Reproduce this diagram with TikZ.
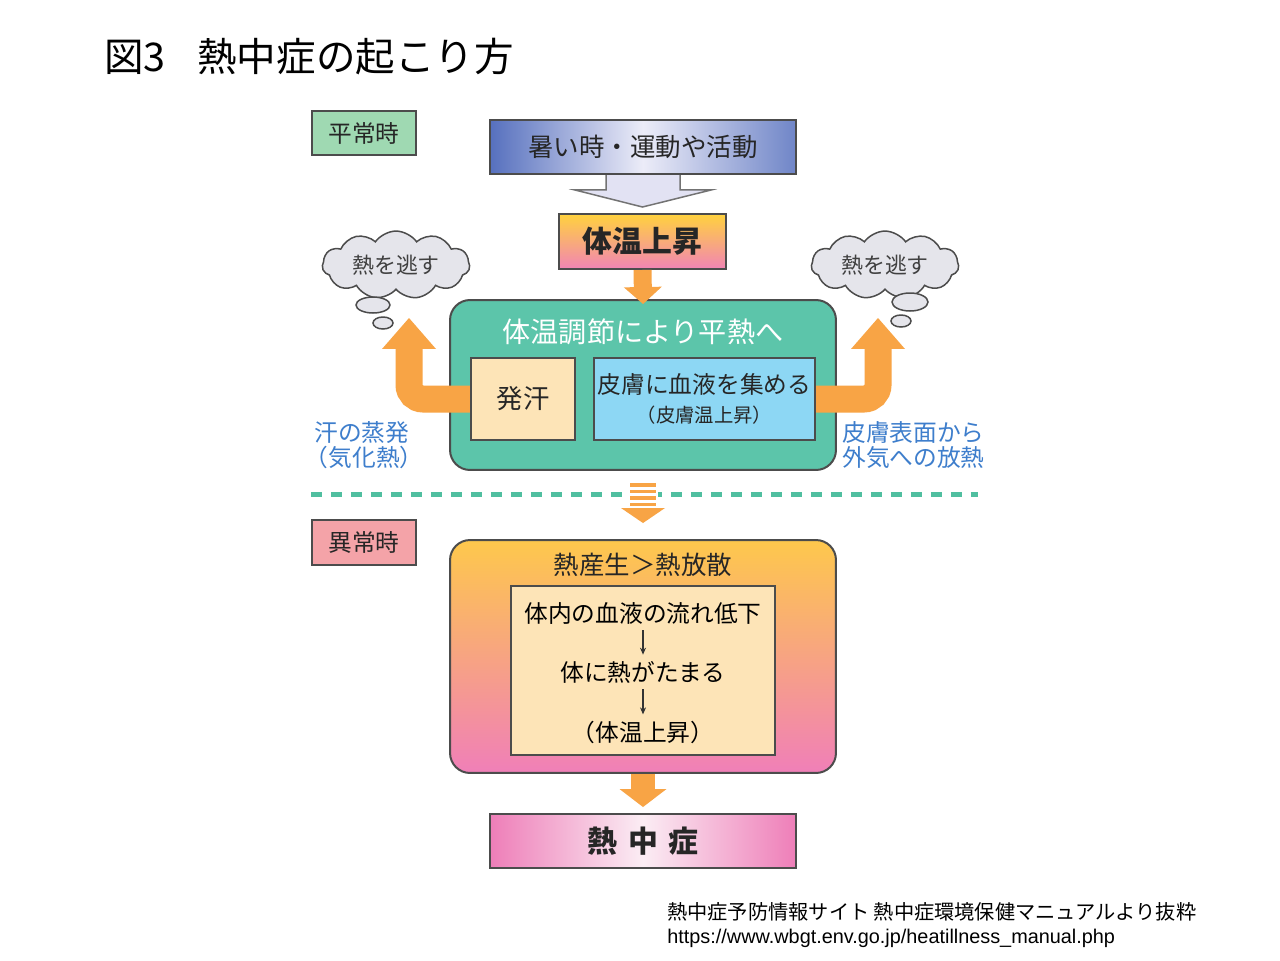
\documentclass[tikz,border=0pt]{standalone}
\usepackage{fontspec}
\setmainfont{Noto Sans CJK JP}
\newfontfamily\urlfont{Liberation Sans}
\usetikzlibrary{shapes.symbols, arrows.meta, calc, backgrounds}

\definecolor{normalgreen}{HTML}{9FD9B2}
\definecolor{abnormalpink}{HTML}{F4A3A8}
\definecolor{hotblue}{HTML}{5670BE}
\definecolor{hotlight}{HTML}{ECECF8}
\definecolor{sunyellow}{HTML}{FFD23E}
\definecolor{sunpink}{HTML}{F184B5}
\definecolor{regulgreen}{HTML}{5CC5AA}
\definecolor{peach}{HTML}{FDE4B7}
\definecolor{skinblue}{HTML}{8DD7F4}
\definecolor{flowor}{HTML}{F8A445}
\definecolor{notenavy}{HTML}{3E7ECC}
\definecolor{cloudgray}{HTML}{E5E5EB}
\definecolor{lavender}{HTML}{E2E2F3}
\definecolor{dashgreen}{HTML}{50BFA0}
\definecolor{strokepink}{HTML}{EE7EB8}
\definecolor{strokelight}{HTML}{FBEDF4}
\definecolor{heatyellow}{HTML}{FEC84C}
\definecolor{heatpink}{HTML}{F07FB8}

\begin{document}
\begin{tikzpicture}[
    x=0.02cm, y=-0.02cm,
    box/.style={rectangle, draw=black!70, line width=0.04cm, inner sep=0pt, align=center, text=black!85},
    tag/.style={box, minimum width=2.08cm, minimum height=0.89cm, font=\fontsize{13.5pt}{16pt}\selectfont},
    banner/.style={box, minimum width=6.12cm, minimum height=1.08cm},
    panel/.style={box, rounded corners=0.4cm, minimum width=7.72cm},
    cloudy/.style={cloud, cloud puffs=11, cloud puff arc=110, aspect=2.4, draw=black!70, line width=0.03cm,
        fill=cloudgray, inner sep=0pt, minimum width=2.95cm, minimum height=1.22cm,
        font=\fontsize{12.5pt}{14pt}\selectfont, text=black!75},
    bubble/.style={draw=black!70, line width=0.03cm, fill=cloudgray},
    note/.style={align=left, anchor=west, inner sep=0pt, text=notenavy, font=\fontsize{13.5pt}{14pt}\selectfont},
    drop/.style={draw=flowor, line width=0.36cm, -{Triangle[width=0.76cm, length=0.34cm, line width=0pt]}},
    dropwide/.style={draw=flowor, line width=0.48cm, -{Triangle[width=0.94cm, length=0.36cm, line width=0pt]}},
    turn/.style={draw=flowor, line width=0.54cm, rounded corners=0.28cm, -{Triangle[width=1.08cm, length=0.62cm, line width=0pt]}},
    thin/.style={draw=black!80, line width=0.025cm, -{Stealth[length=0.14cm, width=0.12cm]}, shorten <=0.12cm, shorten >=0.12cm},
    separator/.style={draw=dashgreen, line width=0.1cm, dash pattern=on 0.22cm off 0.18cm},
    bigarrow/.style={draw=black!55, line width=0.03cm, fill=lavender}
]

\useasboundingbox (0,0) rectangle (1280,960);

% Title
\node[anchor=west, inner sep=0pt, font=\fontsize{22.5pt}{26pt}\selectfont] (title) at (104,57) {図3\hspace{0.8em}熱中症の起こり方};

% Normal state
\node[tag, fill=normalgreen] (normal) at (364,133) {平常時};

\node[banner, left color=hotblue, right color=hotblue!85, middle color=hotlight,
      font=\fontsize{14.5pt}{16pt}\selectfont] (hot) at (643,147) {暑い時・運動や活動};

\node[box, minimum width=3.34cm, minimum height=1.10cm, top color=sunyellow, bottom color=sunpink,
      font=\fontsize{17pt}{19pt}\selectfont\bfseries] (rise) at (642.5,241.5) {体温上昇};

\begin{scope}[on background layer]
    \fill[white] (0,0) rectangle (1280,960);
    \draw[bigarrow] ($(hot.south)+(-37,-3)$) -- ++(0,18) -- ++(-31,0) -- ($(rise.north)+(0,-6)$)
        -- ($(hot.south)+(68,15)$) -- ++(-31,0) -- ++(0,-18) -- cycle;
\end{scope}

% Regulation panel
\node[panel, minimum height=3.4cm, fill=regulgreen] (regulate) at (643,385) {};
\node[text=white, inner sep=0pt, font=\fontsize{16pt}{18pt}\selectfont] (regtitle) at (643,332) {体温調節により平熱へ};

\draw[drop, shorten >=-0.1cm] (rise.south) -- (regulate.north);

% Side arrows
\coordinate (outL) at (409,318);
\coordinate (outR) at (878,318);
\draw[turn] (523,399) -| (outL);
\draw[turn] (704,399) -| (outR);

\node[box, minimum width=2.08cm, minimum height=1.64cm, fill=peach,
      font=\fontsize{15pt}{17pt}\selectfont] (sweat) at (523,399) {発汗};
\node[box, minimum width=4.42cm, minimum height=1.64cm, fill=skinblue,
      font=\fontsize{13.5pt}{17pt}\selectfont] (skin) at (704.5,399)
      {皮膚に血液を集める\\{\fontsize{11pt}{13pt}\selectfont （皮膚温上昇）}};

% Clouds
\node[cloudy] (cloudL) at (396,265) {熱を逃す};
\draw[bubble] (373,305) ellipse [x radius=0.34cm, y radius=0.16cm];
\draw[bubble] (383,323) ellipse [x radius=0.2cm, y radius=0.12cm];

\node[cloudy] (cloudR) at (885,265) {熱を逃す};
\draw[bubble] (910,302) ellipse [x radius=0.36cm, y radius=0.18cm];
\draw[bubble] (901,321) ellipse [x radius=0.2cm, y radius=0.12cm];

\node[note] (sweatnote) at (314,445) {汗の蒸発\\\hspace*{-0.4em}（気化熱）};
\node[note] (skinnote) at (842,445) {皮膚表面から\\外気への放熱};

% Separator
\coordinate (sepL) at (311,494);
\coordinate (sepR) at (978,494);
\draw[separator] (sepL) -- (sepR);
\fill[white] (628,482) rectangle (658,508);
\foreach \y in {485,491.5,498,504.5}
    \fill[flowor] (630,\y-1.6) rectangle (656,\y+1.6);
\fill[flowor] (621,508) -- (665,508) -- (643,523) -- cycle;

% Abnormal state
\node[tag, fill=abnormalpink] (abnormal) at (364,542.5) {異常時};

\node[panel, minimum height=4.66cm, top color=heatyellow, bottom color=heatpink] (imbalance) at (643,656.5) {};
\node[inner sep=0pt, text=black!85, font=\fontsize{14.5pt}{16pt}\selectfont] (imbtitle) at (643,565) {熱産生＞熱放散};

\node[box, minimum width=5.28cm, minimum height=3.38cm, fill=peach] (chain) at (643,670.5) {};
\node[inner sep=0pt, font=\fontsize{13.5pt}{15pt}\selectfont] (flowlow) at (643,613) {体内の血液の流れ低下};
\node[inner sep=0pt, font=\fontsize{13.5pt}{15pt}\selectfont] (heatup) at (643,672) {体に熱がたまる};
\node[inner sep=0pt, font=\fontsize{13.5pt}{15pt}\selectfont] (temprise) at (643,732) {（体温上昇）};
\draw[thin] (flowlow) -- (heatup);
\draw[thin] (heatup) -- (temprise);

\node[banner, left color=strokepink, right color=strokepink, middle color=strokelight,
      font=\fontsize{17pt}{19pt}\selectfont\bfseries] (stroke) at (643,841) {熱\hspace{0.37em}中\hspace{0.37em}症};

\draw[dropwide, shorten >=0.12cm] (imbalance.south) -- (stroke.north);

% Source
\node[anchor=west, inner sep=0pt, font=\fontsize{11.5pt}{13pt}\selectfont] (source) at (667,912)
    {熱中症予防情報サイト 熱中症環境保健マニュアルより抜粋};
\node[anchor=west, inner sep=0pt, font=\urlfont\fontsize{11.3pt}{13pt}\selectfont] (url) at (667,938)
    {https://www.wbgt.env.go.jp/heatillness\_manual.php};

\end{tikzpicture}
\end{document}
